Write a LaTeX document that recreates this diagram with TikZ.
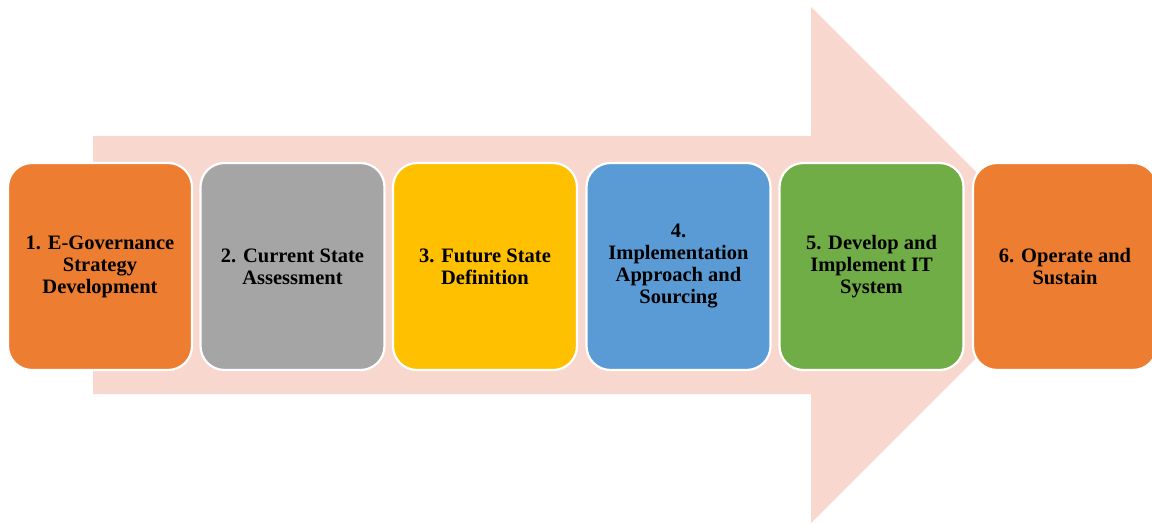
\documentclass[tikz,border=0pt]{standalone}
\usepackage{fontspec}
\setmainfont{Liberation Serif}
\definecolor{arrowpink}{HTML}{F8D8CE}
\definecolor{c1}{HTML}{ED7D31}
\definecolor{c2}{HTML}{A5A5A5}
\definecolor{c3}{HTML}{FFC000}
\definecolor{c4}{HTML}{5B9BD5}
\definecolor{c5}{HTML}{70AD47}
\begin{document}
\begin{tikzpicture}[x=1pt,y=1pt,
  stagebox/.style={draw=white, line width=2.2pt, rounded corners=24pt,
    minimum width=184pt, minimum height=207pt, inner sep=0pt,
    align=center, font=\fontsize{20.5}{22}\selectfont\bfseries, text=black}]
\useasboundingbox (0,0) rectangle (1152,523);
\clip (0,0) rectangle (1152,523);
\fill[arrowpink] (93,387) -- (811,387) -- (811,516) -- (1069,258) -- (811,0) -- (811,129) -- (93,129) -- cycle;
\node[stagebox, fill=c1] (s1) at (100,256.5) {1. E-Governance\\Strategy\\Development};
\node[stagebox, fill=c2] (s2) at (292.5,256.5) {2. Current State\\Assessment};
\node[stagebox, fill=c3] (s3) at (485,256.5) {3. Future State\\Definition};
\node[stagebox, fill=c4] (s4) at (678.5,256.5) {4.\\Implementation\\Approach and\\Sourcing};
\node[stagebox, fill=c5] (s5) at (871.5,256.5) {5. Develop and\\Implement IT\\System};
\node[stagebox, fill=c1] (s6) at (1065,256.5) {6. Operate and\\Sustain};
\end{tikzpicture}
\end{document}
